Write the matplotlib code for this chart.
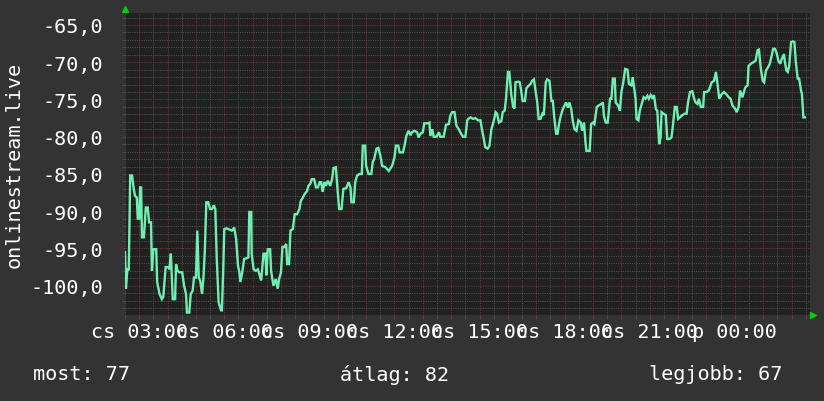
import matplotlib
matplotlib.use("Agg")
import matplotlib.pyplot as plt
from matplotlib.ticker import FixedLocator, MultipleLocator

# minutes since 00:00 of the first day, and the measured value
minutes = [
    150, 152, 155, 158, 161, 165, 168, 171, 175, 177, 180, 182, 184, 186, 190, 194, 198, 201, 205, 207,
    210, 216, 218, 223, 228, 231, 236, 242, 244, 247, 251, 256, 258, 261, 265, 271, 275, 279, 281, 286,
    289, 293, 296, 300, 303, 306, 309, 313, 316, 319, 322, 326, 330, 334, 338, 341, 344, 348, 353, 355,
    358, 360, 365, 376, 381, 385, 389, 392,
    394, 398, 402, 408, 411, 413, 417, 418, 422, 427, 431, 434, 438, 443, 447, 449, 452, 457, 459, 464,
    469, 473, 476, 480, 483, 487, 491, 493, 497, 500, 505, 509, 514, 519, 522, 526, 530, 535, 538, 542,
    545, 550, 554, 558, 562, 565, 568, 572, 575, 579, 584, 588, 591, 596, 599, 603, 608, 612, 618, 623,
    627, 629, 634,
    637, 641, 646, 651, 653, 658, 660, 665, 671, 674, 677, 682, 686, 690, 694, 701, 708, 715, 720, 723,
    728, 731, 738, 742, 745, 750, 754, 757, 762, 768, 771, 775, 780, 783, 790, 794, 796, 800, 803, 809,
    814, 817, 824, 829, 835, 838, 842, 847, 851, 856, 861, 865, 870, 874, 876,
    881, 886, 891, 897, 902, 905, 909, 912, 917, 921, 925, 930, 934, 937, 941, 946, 949, 953, 956, 960,
    963, 967, 971, 974, 976, 982, 985, 988, 991, 996, 999, 1003, 1008, 1011, 1015, 1018, 1022, 1025, 1029, 1033,
    1036, 1040, 1043, 1048, 1052, 1055, 1058, 1062, 1065, 1068, 1071, 1076, 1080, 1083, 1087, 1090, 1094, 1097, 1101, 1105,
    1109, 1114, 1117, 1121, 1124, 1126,
    1133, 1136, 1140, 1143, 1148, 1152, 1158, 1161, 1163, 1167, 1171, 1176, 1179, 1182, 1186, 1188, 1193, 1197, 1200, 1204,
    1208, 1213, 1216, 1221, 1224, 1227, 1230, 1232, 1236, 1239, 1243, 1247, 1251, 1255, 1258, 1262, 1266, 1269, 1273, 1276,
    1280, 1283, 1285, 1289, 1294, 1297, 1302, 1306, 1309, 1313, 1317, 1320, 1324, 1329, 1334, 1338, 1341, 1345, 1350, 1354,
    1357,
    1361, 1364, 1368, 1373, 1375, 1380, 1385, 1391, 1396, 1400, 1403, 1407, 1412, 1417, 1422, 1427, 1431, 1435, 1441, 1444,
    1448, 1451, 1456, 1462, 1467, 1469, 1474, 1479, 1484, 1488, 1491, 1495, 1499, 1502, 1506, 1510, 1514, 1518, 1521, 1525,
    1529, 1532, 1536, 1539, 1544, 1546, 1549, 1552, 1555, 1559, 1563, 1566, 1569, 1573, 1576, 1580, 1582, 1585, 1588,
]
values = [
    -95.5, -100.4, -97.8, -97.8, -85.2, -85.2, -86.8, -87.9, -88.2, -91.0, -91.0, -86.8, -86.8, -93.5, -93.5, -89.5, -89.5, -91.5, -91.5, -98.0,
    -95.1, -95.1, -99.5, -101.1, -101.8, -101.5, -97.5, -97.5, -97.8, -95.7, -101.8, -101.8, -97.1, -98.0, -98.2, -98.2, -100.0, -101.1, -103.6, -103.6,
    -101.1, -100.7, -98.9, -98.9, -92.6, -98.9, -99.3, -101.1, -98.9, -95.1, -88.8, -88.8, -89.7, -89.7, -89.2, -89.7, -96.2, -102.2, -103.3, -103.3,
    -97.3, -92.4, -92.3, -92.6, -92.2, -93.7, -97.3, -98.2,
    -99.5, -98.2, -96.4, -96.3, -96.2, -90.1, -90.1, -95.7, -97.8, -98.0, -97.8, -98.4, -99.3, -95.7, -95.7, -98.6, -95.1, -95.1, -98.0, -100.0,
    -99.1, -100.4, -99.1, -98.2, -94.8, -94.8, -94.4, -97.1, -97.1, -92.6, -92.4, -90.4, -90.4, -89.7, -88.6, -88.2, -87.7, -87.3, -86.6, -86.3,
    -85.7, -85.7, -86.8, -86.8, -86.1, -86.1, -87.4, -86.1, -86.6, -85.9, -86.6, -85.7, -84.2, -84.1, -86.6, -89.7, -89.7, -87.0, -86.9, -86.1,
    -86.8, -88.8, -88.8,
    -86.1, -85.2, -85.0, -85.0, -81.2, -81.2, -83.9, -85.0, -85.0, -83.4, -83.0, -81.6, -81.5, -82.5, -83.9, -84.1, -84.6, -83.9, -82.8, -81.2,
    -81.2, -82.1, -82.1, -81.0, -79.9, -79.2, -79.8, -79.4, -79.2, -79.4, -80.1, -79.6, -79.4, -78.2, -78.2, -78.1, -79.9, -79.0, -80.0, -80.0,
    -79.4, -80.0, -80.0, -78.4, -78.3, -77.2, -76.7, -76.7, -78.5, -79.0, -79.6, -80.0, -80.0, -77.8, -77.6,
    -77.4, -77.6, -77.5, -77.8, -77.8, -79.0, -80.3, -81.4, -81.6, -81.2, -79.0, -77.9, -76.7, -76.9, -78.1, -77.9, -76.7, -76.5, -74.9, -71.3,
    -71.3, -74.3, -76.0, -76.2, -72.7, -72.6, -72.7, -73.8, -75.2, -75.2, -73.5, -73.2, -72.9, -72.5, -72.3, -73.6, -75.4, -77.6, -77.6, -76.9,
    -77.1, -72.7, -72.3, -72.5, -75.2, -75.2, -77.4, -79.6, -79.6, -78.3, -77.4, -76.3, -75.8, -75.4, -76.1, -75.4, -76.3, -77.8, -79.0, -79.2,
    -77.8, -78.1, -79.2, -78.1, -80.7, -81.9,
    -81.9, -78.3, -78.1, -78.3, -76.0, -75.8, -75.6, -75.4, -77.2, -78.1, -78.1, -74.9, -74.9, -72.2, -72.2, -75.4, -75.8, -76.5, -74.0, -72.7,
    -70.9, -71.0, -72.9, -73.1, -72.0, -73.4, -74.9, -77.6, -77.8, -76.5, -75.6, -74.7, -74.9, -74.5, -74.9, -74.4, -74.9, -74.4, -76.3, -76.5,
    -81.0, -80.1, -76.7, -76.9, -77.1, -80.3, -80.3, -80.1, -78.5, -76.0, -76.0, -77.6, -77.4, -77.1, -76.9, -76.9, -75.4, -74.0, -73.9, -74.9,
    -75.4,
    -75.6, -74.9, -76.0, -76.0, -74.0, -74.0, -73.8, -72.7, -72.5, -71.3, -72.7, -74.9, -74.3, -74.0, -74.3, -74.7, -74.9, -75.8, -76.3, -76.7,
    -76.0, -73.8, -74.7, -73.4, -73.1, -70.5, -70.2, -70.0, -69.8, -68.4, -68.3, -70.9, -72.5, -72.7, -71.1, -70.7, -70.2, -69.1, -68.2, -68.2,
    -68.9, -69.8, -70.2, -69.6, -68.9, -70.0, -71.1, -71.3, -70.5, -67.3, -67.2, -67.3, -70.0, -72.2, -72.2, -73.8, -74.3, -77.4, -77.4,
]

y_ticks = [-100, -95, -90, -85, -80, -75, -70, -65]
hour_ticks = list(range(180, 1561, 60))
ylabel = "onlinestream.live"
summary = [("most: 77", 33), ("átlag: 82", 340), ("legjobb: 67", 649)]

def hour_label(m):
    if m % 180:
        return ""
    day = "cs" if m < 1440 else "p"
    return f"{day} {(m // 60) % 24:02d}:00"

mono = "DejaVu Sans Mono"
fs = 14.5
back = "#333333"
canvas = "#212121"
line_c = "#6ff0b2"
minor_c = "#505050"
major_c = "#7a3232"
arrow_c = "#00d000"

fig = plt.figure(figsize=(8.24, 4.02), dpi=100, facecolor=back)
ax = fig.add_axes([125 / 824, 1 - 316 / 402, 685 / 824, 302 / 402])
ax.set_facecolor(canvas)

ax.plot(minutes, values, color=line_c, lw=1.7, solid_joinstyle="miter", zorder=3)

ax.set_xlim(150, 1599)
ax.set_ylim(-103.93, -63.39)

ax.xaxis.set_major_locator(FixedLocator(hour_ticks))
ax.set_xticklabels([hour_label(m) for m in hour_ticks])
ax.xaxis.set_minor_locator(MultipleLocator(30))
ax.yaxis.set_major_locator(FixedLocator(y_ticks))
ax.set_yticklabels([f"{v:.1f}".replace(".", ",") for v in y_ticks])
ax.yaxis.set_minor_locator(MultipleLocator(1))

ax.grid(which="minor", color=minor_c, ls=(0, (1, 1.2)), lw=0.75)
ax.grid(which="major", color=major_c, ls=(0, (1, 1.2)), lw=0.75)
ax.set_axisbelow(True)

ax.tick_params(axis="x", which="major", length=3, color=major_c, pad=2,
               labelsize=fs, labelcolor="white")
ax.tick_params(axis="x", which="minor", length=3, color=minor_c)
ax.tick_params(axis="y", which="major", length=2, color=major_c, pad=14,
               labelsize=fs, labelcolor="white")
ax.tick_params(axis="y", which="minor", length=2, color=minor_c)
for lab in ax.get_xticklabels() + ax.get_yticklabels():
    lab.set_family(mono)

for s in ax.spines.values():
    s.set_visible(False)

ax.set_ylabel(ylabel, family=mono, fontsize=fs, color="white")
ax.yaxis.set_label_coords(-0.1474, 0.5)

# green axis arrows
ax.plot([0], [1.013], marker="^", ms=5, color=arrow_c, transform=ax.transAxes, clip_on=False)
ax.plot([1.005], [0], marker=">", ms=5, color=arrow_c, transform=ax.transAxes, clip_on=False)

for txt, px in summary:
    fig.text(px / 824, 1 - 375 / 402, txt, family=mono, fontsize=fs, color="white",
             ha="left", va="center")

fig.savefig("out.png", dpi=100, facecolor=back)
